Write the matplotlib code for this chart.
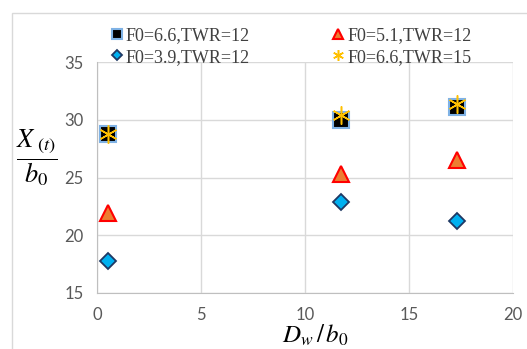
import matplotlib.pyplot as plt
from matplotlib.patches import Rectangle

# D_w/b0 positions of the three test sections
dw_b0 = [0.5, 11.7, 17.3]

# X(t)/b0 for each series
sq_66_12 = [28.8, 30.0, 31.1]
tri_51_12 = [21.9, 25.3, 26.5]
dia_39_12 = [17.8, 22.9, 21.2]
ast_66_15 = [28.8, 30.4, 31.4]

labels = ["F0=6.6,TWR=12", "F0=3.9,TWR=12", "F0=5.1,TWR=12", "F0=6.6,TWR=15"]

plt.rcParams["mathtext.fontset"] = "stix"

fig = plt.figure(figsize=(5.27, 3.49), dpi=100)
ax = fig.add_axes([0.185, 0.1605, 0.7884, 0.6618])

# light chart border, cut off at right and bottom
fig.patches.append(Rectangle((12 / 527, -0.1), 1.2, 1 - 13 / 349 + 0.1,
                             transform=fig.transFigure, fill=False,
                             edgecolor="#d9d9d9", linewidth=1.0))

h1, = ax.plot(dw_b0, sq_66_12, linestyle="none", marker="s", markersize=11,
              markerfacecolor="black", markeredgecolor="#7fb2e5", markeredgewidth=1.5)
h3, = ax.plot(dw_b0, tri_51_12, linestyle="none", marker="^", markersize=12,
              markerfacecolor="#ed7d31", markeredgecolor="#ff0000", markeredgewidth=1.5)
h2, = ax.plot(dw_b0, dia_39_12, linestyle="none", marker="D", markersize=8.5,
              markerfacecolor="#00b0f0", markeredgecolor="#1f3864", markeredgewidth=1.3)
h4, = ax.plot(dw_b0, ast_66_15, linestyle="none", marker=(6, 2, 0), markersize=13,
              markeredgecolor="#ffc000", markeredgewidth=1.1)

ax.set_xlim(0, 20)
ax.set_ylim(15, 35)
ax.set_xticks([0, 5, 10, 15, 20])
ax.set_yticks([15, 20, 25, 30, 35])
ax.grid(True, color="#d9d9d9", linewidth=1.0)
ax.set_axisbelow(True)
for side in ["top", "right"]:
    ax.spines[side].set_visible(False)
for side in ["left", "bottom"]:
    ax.spines[side].set_color("#bfbfbf")
ax.tick_params(length=0, labelsize=12, labelcolor="#595959", pad=10)
for lab in ax.get_xticklabels() + ax.get_yticklabels():
    lab.set_fontfamily("Lato")

fig.legend([h1, h2, h3, h4], labels, ncol=2, loc="upper left",
           bbox_to_anchor=(104 / 527, 1 - 20 / 349), frameon=False,
           prop={"family": "Liberation Serif", "size": 13},
           labelcolor="#404040", handlelength=0.6, handletextpad=0.2,
           columnspacing=4.6, labelspacing=0.25, borderaxespad=0,
           markerscale=0.6)

fig.text(37 / 527, 1 - 158 / 349, r"$\dfrac{X_{\ (t)}}{b_0}$", fontsize=19,
         ha="center", va="center", color="black")
fig.text(315 / 527, 1 - 335 / 349, r"$D_w\,/\,b_0$", fontsize=18,
         ha="center", va="center", color="black")

fig.savefig("out.png", dpi=100)
